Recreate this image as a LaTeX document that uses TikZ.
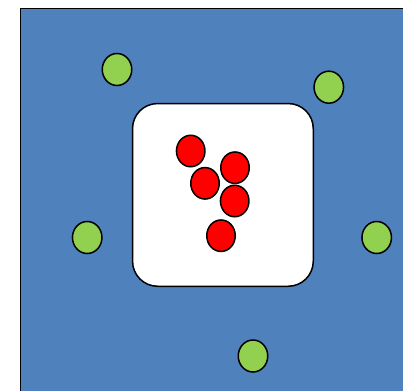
\documentclass[tikz,border=0pt]{standalone}
\usepackage{tikz}
\usetikzlibrary{shapes.geometric}
\definecolor{cBack}{HTML}{4F81BD}
\definecolor{cOut}{HTML}{92D050}
\definecolor{cIn}{HTML}{FF0000}
\tikzset{
  field/.style={draw=black,line width=1.6pt,fill=cBack},
  cell/.style={rectangle,draw=black,line width=1.5pt,fill=white,rounded corners=25pt,inner sep=0pt},
  outer/.style={ellipse,fill=cOut,draw=black,line width=1.5pt,inner sep=0pt,minimum width=29.5pt,minimum height=32pt},
  inner/.style={ellipse,fill=cIn,draw=black,line width=1.5pt,inner sep=0pt,minimum width=28.5pt,minimum height=31.5pt},
}
\begin{document}
\begin{tikzpicture}[x=1pt,y=-1pt]
  \useasboundingbox (0,0) rectangle (403,390);
  \clip (0,0) rectangle (403,390);
  \draw[field] (20.5,8.5) rectangle (420,410);
  \node[cell,minimum width=180.7pt,minimum height=182.7pt] (box) at (222.9,194.9) {};
  % particles outside the cell
  \foreach \x/\y/\nm in {117/69.5/o1,328.8/87.2/o2,87.2/237.5/o3,376.7/237.5/o4,253/356/o5}{
    \node[outer] (\nm) at (\x,\y) {};
  }
  % particles inside the cell
  \foreach \x/\y/\nm in {190.7/151/i1,235/167.7/i2,205/183.3/i3,234.7/201/i4,221/235.7/i5}{
    \node[inner] (\nm) at (\x,\y) {};
  }
\end{tikzpicture}
\end{document}
